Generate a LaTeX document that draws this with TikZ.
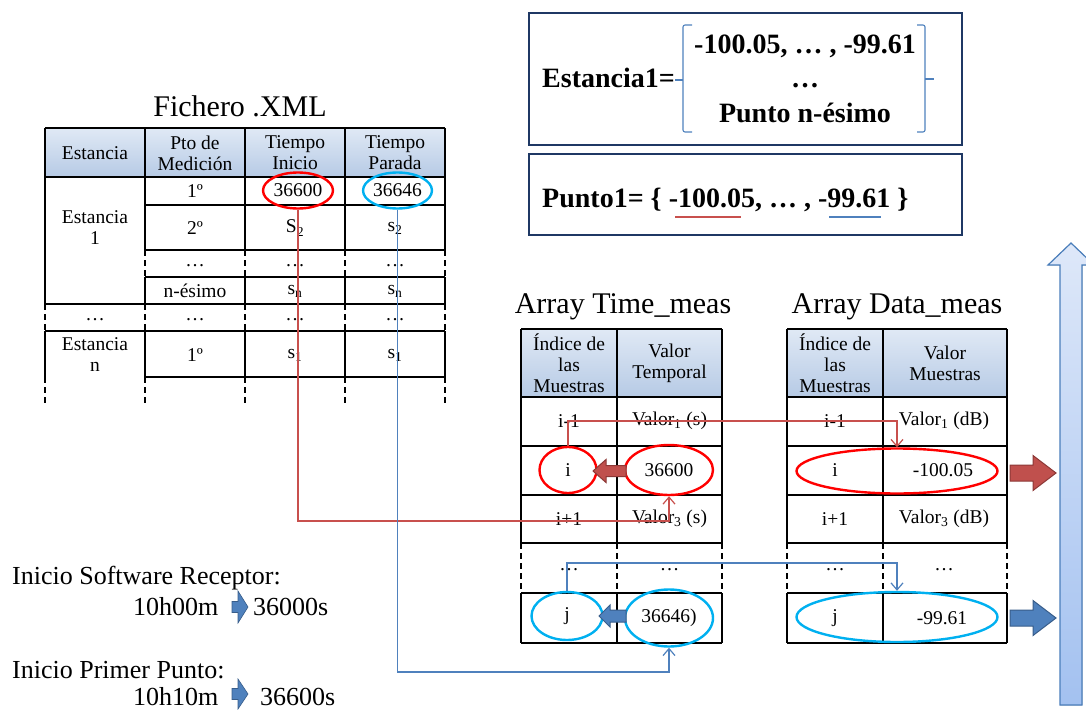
\documentclass[tikz,border=0pt]{standalone}
\usepackage{fontspec}
\setmainfont{Liberation Serif}
\usetikzlibrary{shapes.geometric,arrows.meta,calc}
\definecolor{redc}{RGB}{200,80,77}
\definecolor{bluec}{RGB}{79,129,189}
\definecolor{ellred}{RGB}{255,0,0}
\definecolor{ellcyan}{RGB}{0,176,240}
\definecolor{navy}{RGB}{31,56,100}
\definecolor{hdtop}{RGB}{224,233,245}
\definecolor{hdbot}{RGB}{182,202,229}
\definecolor{arrred}{RGB}{192,80,77}
\definecolor{arrredd}{RGB}{140,56,54}
\definecolor{arrblue}{RGB}{79,129,189}
\definecolor{arrblued}{RGB}{56,93,138}
\definecolor{upt}{RGB}{222,232,249}
\definecolor{upb}{RGB}{163,193,240}
\definecolor{upd}{RGB}{74,126,187}
\newcommand{\hblock}[7]{%
  \filldraw[#1] (#2,#5-#6) -- (#3,#5-#6) -- (#3,#5-#7) -- (#4,#5) -- (#3,#5+#7) -- (#3,#5+#6) -- (#2,#5+#6) -- cycle;}
\begin{document}
\begin{tikzpicture}[x=1pt,y=-1pt,
  tline/.style={line width=1.3pt,black},
  dline/.style={line width=1.3pt,black,dash pattern=on 6pt off 4pt},
  cell/.style={font=\fontsize{19.5}{21}\selectfont,align=center,inner sep=0pt},
  ttl/.style={font=\fontsize{30}{34}\selectfont,inner sep=0pt,anchor=base},
  lt/.style={font=\fontsize{26}{30}\selectfont,inner sep=0pt,anchor=base west},
  bx/.style={font=\fontsize{28}{32}\selectfont\bfseries,inner sep=0pt},
  rell/.style={ellipse,draw=ellred,line width=2.4pt,inner sep=0pt,font=\fontsize{19.5}{21}\selectfont},
  cell2/.style={ellipse,draw=ellcyan,line width=2.4pt,inner sep=0pt,font=\fontsize{19.5}{21}\selectfont},
  redcon/.style={draw=redc,line width=1.2pt,-{Straight Barb[length=7pt,width=12pt]}},
  bluecon/.style={draw=bluec,line width=1.2pt,-{Straight Barb[length=7pt,width=12pt]}},
  hdr/.style={top color=hdtop,bottom color=hdbot},
  navybox/.style={draw=navy,line width=2.6pt}]
\useasboundingbox (0,0) rectangle (1086,709);

% ---------- big up arrow ----------
\filldraw[draw=upd,line width=1.2pt,top color=upt,bottom color=upb]
  (1060,705) -- (1060,265) -- (1048,265) -- (1071,243) -- (1094,265) -- (1082,265) -- (1082,705) -- cycle;

% ---------- top boxes ----------
\draw[navybox] (529,13) rectangle (962,145);
\draw[navybox] (529,154) rectangle (962,235);
\node[bx,anchor=base west] (est1) at (542,88) {Estancia1=};
\node[bx,anchor=base] (l1) at (805,53) {-100.05, … , -99.61};
\node[bx,anchor=base] (l2) at (805,88) {…};
\node[bx,anchor=base] (l3) at (805,122) {Punto n-ésimo};
\draw[bluec,line width=1.1pt,rounded corners=2pt] (692,25) -- (683,25) -- (683,132) -- (692,132);
\draw[bluec,line width=1.1pt] (683,80) -- (675,80);
\draw[bluec,line width=1.1pt,rounded corners=2pt] (917,25) -- (925,25) -- (925,132) -- (917,132);
\draw[bluec,line width=1.1pt] (925,79) -- (934,79);
\node[bx,anchor=base west] (pt1) at (542,207) {Punto1= \{ -100.05, … , -99.61 \}};
\draw[redc,line width=1.3pt] (675,217) -- (741,217);
\draw[bluec,line width=1.3pt] (829,217) -- (881,217);

% ---------- XML table ----------
\node[ttl] (tx) at (240,116) {Fichero .XML};
\fill[hdr] (45,128) rectangle (445,177);
\draw[tline] (45,128) -- (445,128) (45,177) -- (445,177) (45,304) -- (445,304) (45,331) -- (445,331);
\foreach \yy in {205,250,277,377} \draw[tline] (145,\yy) -- (445,\yy);
\foreach \xx in {145,245,345,445} {
  \draw[tline] (\xx,128) -- (\xx,250) (\xx,277) -- (\xx,304) (\xx,331) -- (\xx,377);
  \draw[dline] (\xx,250) -- (\xx,277) (\xx,304) -- (\xx,331) (\xx,377) -- (\xx,405);
}
\draw[tline] (45,128) -- (45,304) (45,331) -- (45,377);
\draw[dline] (45,304) -- (45,331) (45,377) -- (45,405);
\node[cell] (h1) at (95,153) {Estancia};
\node[cell] (h2) at (195,153) {Pto de\\Medición};
\node[cell] (h3) at (295,153) {Tiempo\\Inicio};
\node[cell] (h4) at (395,153) {Tiempo\\Parada};
\node[cell] (e1) at (95,228) {Estancia\\1};
\node[cell] (r11) at (195,191) {1º};
\node[rell,minimum width=70pt,minimum height=36pt] (xr) at (298,190.5) {36600};
\node[cell2,minimum width=63pt,minimum height=36pt] (xc) at (397.5,190.5) {36646};
\node[cell] (r21) at (195,228) {2º};
\node[cell] (r22) at (295,228) {S\textsubscript{2}};
\node[cell] (r23) at (395,228) {s\textsubscript{2}};
\node[cell] (r31) at (195,266) {…};
\node[cell] (r32) at (295,266) {…};
\node[cell] (r33) at (395,266) {…};
\node[cell] (r41) at (195,291) {n-ésimo};
\node[cell] (r42) at (295,291) {s\textsubscript{n}};
\node[cell] (r43) at (395,291) {s\textsubscript{n}};
\node[cell] (r50) at (95,320) {…};
\node[cell] (r51) at (195,320) {…};
\node[cell] (r52) at (295,320) {…};
\node[cell] (r53) at (395,320) {…};
\node[cell] (en) at (95,355) {Estancia\\n};
\node[cell] (r61) at (195,355) {1º};
\node[cell] (r62) at (295,355) {s\textsubscript{1}};
\node[cell] (r63) at (395,355) {s\textsubscript{1}};

% ---------- Array Time_meas ----------
\node[ttl] (tt) at (623,313) {Array Time\_meas};
\fill[hdr] (521,329) rectangle (722,397);
\foreach \yy in {329,397,446,495,543,593,643} \draw[tline] (521,\yy) -- (722,\yy);
\foreach \xx in {521,617,722} {
  \draw[tline] (\xx,329) -- (\xx,543) (\xx,593) -- (\xx,643);
  \draw[dline] (\xx,543) -- (\xx,593);
}
\node[cell] (th1) at (569,363) {Índice de\\las\\Muestras};
\node[cell] (th2) at (669.5,363) {Valor\\Temporal};
\node[cell] (t11) at (569,421) {i-1};
\node[cell] (t12) at (669.5,421) {Valor\textsubscript{1} (s)};
\node[rell,minimum width=57pt,minimum height=46pt] (ti) at (568,470) {i};
\node[rell,minimum width=88pt,minimum height=50pt] (tr) at (669,470) {36600};
\node[cell] (t31) at (569,519) {i+1};
\node[cell] (t32) at (669.5,519) {Valor\textsubscript{3} (s)};
\node[cell] (t41) at (569,570) {…};
\node[cell] (t42) at (669.5,570) {…};
\node[cell2,minimum width=71pt,minimum height=48pt] (tj) at (567,616) {j};
\node[cell2,minimum width=88pt,minimum height=57pt] (tc) at (669,618) {36646)};

% ---------- Array Data_meas ----------
\node[ttl] (td) at (897,313) {Array Data\_meas};
\fill[hdr] (787,329) rectangle (1007,397);
\foreach \yy in {329,397,446,495,543,593,643} \draw[tline] (787,\yy) -- (1007,\yy);
\foreach \xx in {787,883,1007} {
  \draw[tline] (\xx,329) -- (\xx,543) (\xx,593) -- (\xx,643);
  \draw[dline] (\xx,543) -- (\xx,593);
}
\node[cell] (dh1) at (835,363) {Índice de\\las\\Muestras};
\node[cell] (dh2) at (945,363) {Valor\\Muestras};
\node[cell] (d11) at (835,421) {i-1};
\node[cell] (d12) at (944,421) {Valor\textsubscript{1} (dB)};
\node[cell] (d21) at (835,470) {i};
\node[cell] (d22) at (943,470) {-100.05};
\node[rell,minimum width=201pt,minimum height=45pt] (dr) at (897,471) {};
\node[cell] (d31) at (835,519) {i+1};
\node[cell] (d32) at (944,519) {Valor\textsubscript{3} (dB)};
\node[cell] (d41) at (835,570) {…};
\node[cell] (d42) at (944,570) {…};
\node[cell] (d51) at (835,618) {j};
\node[cell] (d52) at (942,618) {-99.61};
\node[cell2,minimum width=201pt,minimum height=50pt] (dc) at (897,617) {};

% ---------- connectors ----------
\coordinate (ry1) at (0,521);
\coordinate (by1) at (0,672);
\coordinate (ry2) at (0,421);
\coordinate (by2) at (0,563);
\draw[redcon] (xr.south) |- (tr.south |- ry1) -- (tr.south);
\draw[bluecon] (xc.south) |- (tc.south |- by1) -- (tc.south);
\draw[redcon] (ti.north) |- (dr.north |- ry2) -- (dr.north);
\draw[bluecon] (tj.north) |- (dc.north |- by2) -- (dc.north);

% ---------- block arrows ----------
\hblock{fill=arrred,draw=arrredd,line width=1pt}{626}{606}{593}{471}{5.5}{11.5}
\hblock{fill=arrblue,draw=arrblued,line width=1pt}{626}{610}{599}{616}{6}{11}
\hblock{fill=arrred,draw=arrredd,line width=1pt}{1010}{1033}{1056}{473}{8}{17.5}
\hblock{fill=arrblue,draw=arrblued,line width=1pt}{1010}{1033}{1056}{618}{8}{17.5}

% ---------- bottom-left text ----------
\node[lt] (s1) at (12,584) {Inicio Software Receptor:};
\node[lt] (s2) at (133,615) {10h00m};
\node[lt] (s3) at (253,615) {36000s};
\node[lt] (p1) at (12,678) {Inicio Primer Punto:};
\node[lt] (p2) at (133,705) {10h10m};
\node[lt] (p3) at (260,705) {36600s};
\hblock{fill=arrblue,draw=arrblued,line width=0.6pt}{232}{238}{248}{607}{5.5}{16}
\hblock{fill=arrblue,draw=arrblued,line width=0.6pt}{232}{238}{248}{694}{5.5}{15}
\end{tikzpicture}
\end{document}
